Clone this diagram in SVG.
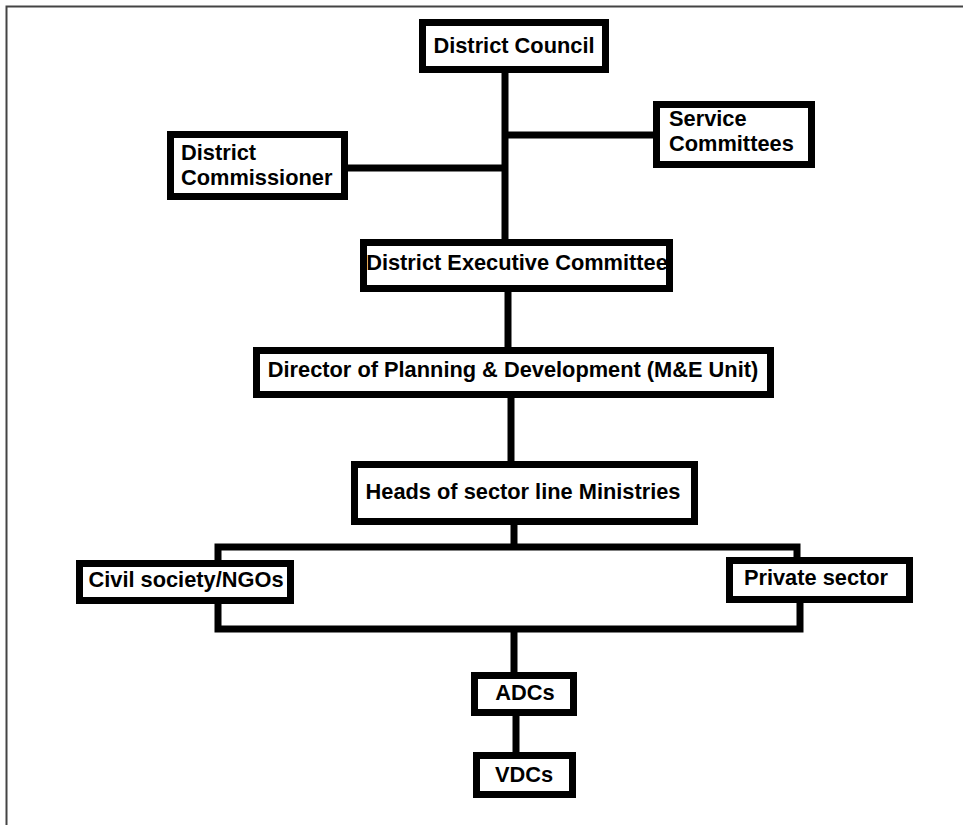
<svg xmlns="http://www.w3.org/2000/svg" width="963" height="825" viewBox="0 0 963 825">
<style>
.box{fill:#fff;stroke:#000;stroke-width:7}
.t{font-family:"Liberation Sans",Arial,sans-serif;font-weight:bold;font-size:21.8px;fill:#000}
.c{text-anchor:middle}
.ln{fill:none;stroke:#000;stroke-width:7}
</style>
<rect x="0" y="0" width="963" height="825" fill="#fff"/>
<path d="M6.5 830 V6.5 H970" fill="none" stroke="#444" stroke-width="2"/>
<g id="connectors">
<path class="ln" d="M505 73 V239"/>
<path class="ln" d="M505 135 H653"/>
<path class="ln" d="M348 168 H505"/>
<path class="ln" d="M508 292 V347"/>
<path class="ln" d="M511 398 V461"/>
<path class="ln" d="M514 525 V547"/>
<path class="ln" d="M218 560 V547 H797 V557"/>
<path class="ln" d="M218 604 V629 H800 V603"/>
<path class="ln" d="M514 629 V672"/>
<path class="ln" d="M516 716 V752"/>
</g>
<g id="district-council"><rect class="box" x="422.5" y="22.5" width="183" height="47"/><text class="t c" x="514" y="53">District Council</text></g>
<g id="service-committees"><rect class="box" x="656.5" y="104.5" width="155" height="60"/><text class="t" x="669" y="126">Service</text><text class="t" x="669" y="151">Committees</text></g>
<g id="district-commissioner"><rect class="box" x="170.5" y="134.5" width="174" height="62"/><text class="t" x="181" y="160">District</text><text class="t" x="181" y="185">Commissioner</text></g>
<g id="district-executive-committee"><rect class="box" x="363.5" y="242.5" width="306" height="46"/><text class="t c" x="517" y="270">District Executive Committee</text></g>
<g id="director-planning"><rect class="box" x="256.5" y="350.5" width="514" height="44"/><text class="t c" x="513" y="377">Director of Planning &amp; Development (M&amp;E Unit)</text></g>
<g id="heads-ministries"><rect class="box" x="354.5" y="464.5" width="340" height="57"/><text class="t c" x="523" y="499">Heads of sector line Ministries</text></g>
<g id="civil-society"><rect class="box" x="79.5" y="563.5" width="211" height="37"/><text class="t c" x="186" y="587">Civil society/NGOs</text></g>
<g id="private-sector"><rect class="box" x="729.5" y="560.5" width="180" height="39"/><text class="t c" x="816" y="585">Private sector</text></g>
<g id="adcs"><rect class="box" x="474.5" y="675.5" width="99" height="37"/><text class="t c" x="525" y="700">ADCs</text></g>
<g id="vdcs"><rect class="box" x="476.5" y="755.5" width="96" height="39"/><text class="t c" x="524" y="782">VDCs</text></g>
</svg>
